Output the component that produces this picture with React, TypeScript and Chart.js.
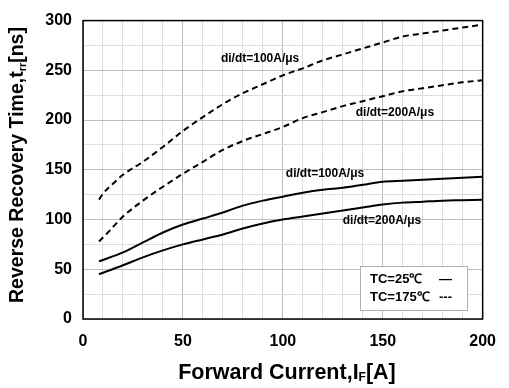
import React, { useEffect, useRef } from "react";
import { Chart, registerables } from "chart.js";

Chart.register(...registerables);

// Forward current sample points [A]
const currentA = [8, 10, 15, 20, 30, 40, 50, 60, 70, 80, 90, 100, 110, 120, 130, 140, 150, 160, 170, 180, 190, 200];
const currentB = [8, 12, 20, 30, 40, 50, 60, 70, 80, 90, 100, 110, 120, 130, 140, 150, 160, 170, 180, 190, 200];
const currentC = [8, 20, 30, 40, 50, 60, 70, 80, 90, 100, 110, 120, 130, 140, 150, 160, 170, 180, 190, 200];

// Reverse recovery time trr [ns]
const trr175_100 = [120, 126, 136, 145, 158, 173, 189, 203, 216, 227, 236, 245, 252, 260, 266, 272, 278, 284, 287, 290, 293, 296];
const trr175_200 = [78, 86, 103, 119, 133, 146, 158, 170, 179, 186, 193, 202, 208, 214, 219, 224, 229, 232, 235, 238, 240];
const trr25_100 = [58, 67, 77, 87, 95, 101, 107, 114, 119, 123, 127, 130, 132, 135, 138, 139, 140, 141, 142, 143];
const trr25_200 = [45, 54, 62, 69, 75, 80, 85, 91, 96, 100, 103, 106, 109, 112, 115, 117, 118, 119, 119.5, 120];

const curveLabels = [
  { text: "di/dt=100A/μs", x: 69, y: 262 },
  { text: "di/dt=200A/μs", x: 136.5, y: 207 },
  { text: "di/dt=100A/μs", x: 101.5, y: 146 },
  { text: "di/dt=200A/μs", x: 130, y: 99 },
];

const legendRows = [
  { text: "TC=25℃", mark: "—" },
  { text: "TC=175℃", mark: "---" },
];

const FONT = "'Liberation Sans', Arial, Helvetica, sans-serif";

const toPoints = (xs: number[], ys: number[]) => xs.map((x, i) => ({ x, y: ys[i] }));

// draws main text with a smaller subscript part, centred on (0,0) of the current transform
function drawSubscripted(ctx: any, parts: [string, string, string], big: number, small: number, drop: number) {
  ctx.font = `bold ${big}px ${FONT}`;
  const w1 = ctx.measureText(parts[0]).width;
  const w3 = ctx.measureText(parts[2]).width;
  ctx.font = `bold ${small}px ${FONT}`;
  const w2 = ctx.measureText(parts[1]).width;
  let x = -(w1 + w2 + w3) / 2;
  ctx.font = `bold ${big}px ${FONT}`;
  ctx.fillText(parts[0], x, 0);
  x += w1;
  ctx.font = `bold ${small}px ${FONT}`;
  ctx.fillText(parts[1], x, drop);
  x += w2;
  ctx.font = `bold ${big}px ${FONT}`;
  ctx.fillText(parts[2], x, 0);
}

const overlay = {
  id: "overlay",
  afterDraw(chart: any) {
    const { ctx, chartArea, scales } = chart;
    const { left, right, top, bottom } = chartArea;
    ctx.save();
    // plot frame
    ctx.strokeStyle = "#000";
    ctx.lineWidth = 1.5;
    ctx.strokeRect(left, top, right - left, bottom - top);

    // curve annotations
    ctx.fillStyle = "#000";
    ctx.font = `bold 12px ${FONT}`;
    ctx.textAlign = "left";
    ctx.textBaseline = "middle";
    curveLabels.forEach((l) => {
      ctx.fillText(l.text, scales.x.getPixelForValue(l.x), scales.y.getPixelForValue(l.y));
    });

    // legend box
    const bx = 360, by = 266, bw = 107, bh = 44;
    ctx.fillStyle = "#fff";
    ctx.fillRect(bx, by, bw, bh);
    ctx.strokeStyle = "#b0b0b0";
    ctx.lineWidth = 1;
    ctx.strokeRect(bx + 0.5, by + 0.5, bw, bh);
    ctx.fillStyle = "#000";
    ctx.font = `bold 13px ${FONT}`;
    legendRows.forEach((r, i) => {
      const y = by + 13 + i * 18;
      ctx.fillText(r.text, bx + 10, y);
      ctx.fillText(r.mark, bx + 79, y);
    });

    // axis titles
    ctx.save();
    ctx.translate(287, 373);
    drawSubscripted(ctx, ["Forward Current,I", "F", "[A]"], 21.5, 12, 5);
    ctx.restore();

    ctx.translate(18, 165);
    ctx.rotate(-Math.PI / 2);
    drawSubscripted(ctx, ["Reverse Recovery Time,t", "rr", "[ns]"], 19.5, 11, 5);
    ctx.restore();
  },
};

export default function App() {
  const ref = useRef<HTMLCanvasElement>(null);

  useEffect(() => {
    if (!ref.current) return;
    const line = (data: any, dashed: boolean) => ({
      data,
      borderColor: "#000",
      borderWidth: 2,
      borderDash: dashed ? [6, 4] : [],
      pointRadius: 0,
      tension: 0.35,
      cubicInterpolationMode: "monotone",
      fill: false,
    });
    const gridColor = (c: any) => (c.tick && c.tick.value % 50 === 0 ? "#bdbdbd" : "#dddddd");
    const chart = new Chart(ref.current, {
      type: "line",
      data: {
        datasets: [
          line(toPoints(currentA, trr175_100), true),
          line(toPoints(currentB, trr175_200), true),
          line(toPoints(currentC, trr25_100), false),
          line(toPoints(currentC, trr25_200), false),
        ] as any,
      },
      options: {
        animation: false,
        responsive: false,
        events: [],
        layout: { padding: { top: 11, right: 20, left: 0, bottom: 0 } },
        plugins: { legend: { display: false }, tooltip: { enabled: false } },
        scales: {
          x: {
            type: "linear",
            min: 0,
            max: 200,
            afterFit: (s: any) => { s.height = 69; },
            border: { display: false },
            grid: { drawTicks: false, lineWidth: 1, color: gridColor },
            ticks: {
              stepSize: 10,
              padding: 13,
              color: "#000",
              font: { family: FONT, size: 16, weight: "bold" },
              maxRotation: 0,
              autoSkip: false,
              callback: (v: any) => (v % 50 === 0 ? String(v) : ""),
            },
          },
          y: {
            type: "linear",
            min: 0,
            max: 300,
            afterFit: (s: any) => { s.width = 83; },
            border: { display: false },
            grid: { drawTicks: false, lineWidth: 1, color: gridColor },
            ticks: {
              stepSize: 25,
              padding: 11,
              color: "#000",
              font: { family: FONT, size: 16, weight: "bold" },
              autoSkip: false,
              callback: (v: any) => (v % 50 === 0 ? String(v) : ""),
            },
          },
        },
      } as any,
      plugins: [overlay],
    });
    return () => chart.destroy();
  }, []);

  return (
    <div style={{ position: "fixed", left: 0, top: 0, width: 509, height: 388, background: "#fff" }}>
      <canvas ref={ref} width={509} height={388} style={{ display: "block" }} />
    </div>
  );
}
